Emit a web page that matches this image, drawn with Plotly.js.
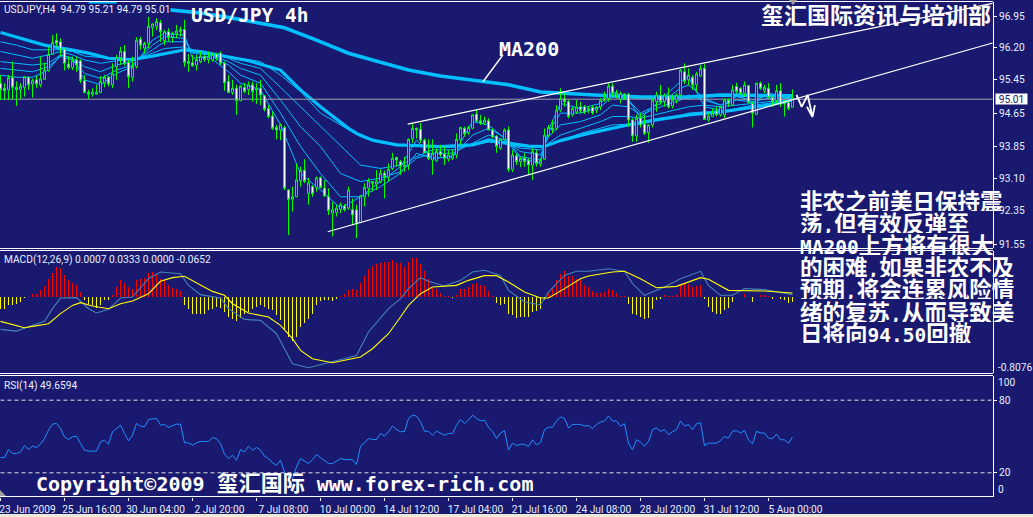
<!DOCTYPE html>
<html><head><meta charset="utf-8">
<script src="https://cdn.plot.ly/plotly-3.0.1.min.js"></script>
<style>html,body{margin:0;padding:0;background:#191970;overflow:hidden}</style></head>
<body><div id="chart" style="width:1033px;height:517px"></div>
<script>
const barOpen=[95.36,95.24,95.20,95.49,95.26,95.21,95.26,95.50,95.34,95.44,95.32,95.45,95.66,96.04,96.37,96.34,96.17,95.81,95.73,95.91,95.89,95.42,95.14,95.10,95.10,95.14,95.37,95.50,95.32,95.75,95.97,96.11,95.85,95.50,95.75,96.40,96.19,96.30,96.68,96.71,96.79,96.37,96.58,96.45,96.54,96.58,96.63,95.87,95.84,95.79,95.87,95.99,95.92,95.91,96.04,96.07,95.83,95.40,95.14,95.24,94.95,95.26,95.21,95.32,95.20,95.24,95.06,94.76,94.58,94.31,94.25,94.31,92.83,92.61,92.67,93.05,93.30,92.75,92.91,92.89,93.12,92.87,92.67,92.28,92.30,92.37,92.45,92.40,92.36,92.36,92.06,92.67,92.87,93.03,92.97,93.03,93.23,93.13,93.34,93.60,93.50,93.38,93.42,94.05,94.29,94.27,94.01,93.71,93.54,93.52,93.74,93.68,93.56,93.58,93.66,94.03,94.29,94.19,94.29,94.63,94.47,94.42,94.47,94.25,94.11,93.82,94.03,94.25,93.32,93.64,93.50,93.58,93.53,93.42,93.71,93.45,93.56,94.13,94.29,94.29,94.72,94.99,94.92,94.61,94.68,94.80,94.80,94.71,94.79,94.72,94.80,94.95,95.00,95.29,95.08,94.98,95.10,95.10,94.49,94.11,94.53,94.39,94.19,94.37,94.92,95.06,94.92,95.06,94.82,94.96,95.08,95.63,95.44,95.50,95.32,95.53,95.71,94.49,94.57,94.70,94.61,94.61,94.95,94.84,95.28,95.24,95.12,95.30,94.88,94.62,95.36,95.18,95.24,95.02,94.95,95.18,94.92,94.90,94.79];
const barHigh=[95.55,95.36,95.55,95.87,95.40,95.36,95.53,95.51,95.47,95.53,95.99,95.85,96.22,96.50,96.54,96.42,96.18,95.99,95.99,95.99,95.92,95.55,95.20,95.24,95.32,95.53,95.55,95.53,95.83,96.03,96.22,96.26,95.91,95.99,96.45,96.46,96.34,96.93,96.78,96.90,96.86,96.62,96.66,96.58,96.74,96.70,96.86,96.05,96.03,96.03,96.11,96.03,96.11,96.07,96.08,96.11,95.87,95.55,95.44,95.32,95.32,95.37,95.40,95.40,95.36,95.44,95.08,94.84,94.69,94.37,94.41,94.35,92.85,92.91,93.46,93.38,93.56,93.11,92.95,93.15,93.15,93.07,92.87,92.55,92.48,92.53,92.50,92.91,92.63,92.48,92.71,92.99,93.11,93.04,93.30,93.32,93.29,93.46,93.71,93.62,93.54,93.62,94.05,94.42,94.31,94.42,94.05,94.03,94.03,93.82,93.90,93.86,93.78,93.79,94.17,94.33,94.33,94.35,94.63,94.74,94.61,94.57,94.53,94.29,94.13,94.05,94.29,94.33,93.78,93.70,93.62,93.70,93.58,93.82,93.78,93.58,94.29,94.37,94.49,94.84,95.24,95.12,94.96,94.80,94.96,94.92,94.84,94.82,94.84,94.82,95.00,95.16,95.36,95.36,95.20,95.16,95.12,95.12,94.53,94.61,94.65,94.61,94.39,95.00,95.16,95.32,95.12,95.26,95.08,95.12,95.69,95.83,95.71,95.55,95.63,95.79,95.81,94.65,94.76,94.80,94.82,95.00,95.00,95.32,95.37,95.26,95.40,95.32,94.92,95.37,95.40,95.32,95.36,95.04,95.32,95.36,94.96,94.92,95.21];
const barLow=[94.96,94.96,94.96,94.98,94.82,94.98,95.04,95.20,95.02,95.24,95.26,95.44,95.63,96.03,96.22,95.99,95.66,95.69,95.67,95.63,95.36,95.12,94.98,95.04,95.08,95.12,95.26,95.28,95.24,95.44,95.79,95.77,95.24,95.40,95.71,96.15,96.07,96.19,96.46,96.62,96.34,96.26,96.34,96.32,96.42,96.46,95.75,95.63,95.75,95.66,95.83,95.87,95.83,95.87,95.89,95.79,95.18,95.14,95.08,94.61,94.93,95.12,95.08,94.92,94.87,94.84,94.69,94.53,94.25,94.03,94.01,92.83,91.76,92.32,92.67,92.91,92.99,92.48,92.67,92.79,92.87,92.67,92.24,91.73,92.20,92.28,92.32,92.36,92.00,91.69,92.04,92.44,92.67,92.79,92.83,92.99,92.63,93.03,93.30,93.38,93.19,93.26,93.30,93.94,94.05,93.94,93.70,93.54,93.19,93.50,93.62,93.42,93.50,93.54,93.58,93.90,94.09,94.13,94.27,94.45,94.37,94.37,94.25,94.05,93.71,93.78,94.01,93.26,93.26,93.42,93.37,93.38,93.19,93.07,93.38,93.38,93.54,94.09,94.17,94.25,94.68,94.80,94.53,94.57,94.63,94.65,94.63,94.65,94.61,94.65,94.72,94.92,94.92,95.04,95.00,94.88,94.96,94.33,93.97,93.97,94.31,94.13,93.95,94.31,94.68,94.84,94.80,94.76,94.76,94.88,95.04,95.34,95.30,95.20,95.16,95.51,94.49,94.45,94.57,94.57,94.57,94.53,94.80,94.82,95.12,95.08,95.04,94.88,94.31,94.61,95.20,95.12,95.00,94.80,94.88,94.80,94.57,94.72,94.79];
const barClose=[95.20,95.18,95.49,95.26,95.21,95.29,95.51,95.32,95.42,95.34,95.46,95.67,96.04,96.32,96.30,96.15,95.83,95.73,95.89,95.79,95.42,95.14,95.10,95.14,95.14,95.40,95.50,95.34,95.58,95.97,96.12,95.83,95.51,95.75,96.38,96.26,96.30,96.71,96.76,96.82,96.58,96.58,96.46,96.54,96.60,96.63,95.85,95.83,95.77,95.92,96.00,95.92,95.99,96.04,95.95,95.83,95.37,95.14,95.24,94.95,95.29,95.16,95.32,95.16,95.24,95.08,94.74,94.57,94.29,94.25,94.37,92.87,92.61,92.67,93.07,93.29,93.03,93.00,92.74,93.12,92.89,92.69,92.34,92.36,92.40,92.48,92.36,92.83,92.24,92.03,92.69,92.89,93.05,92.99,93.04,93.23,93.15,93.32,93.58,93.54,93.40,93.42,94.03,94.29,94.25,94.01,93.71,93.58,93.70,93.74,93.66,93.58,93.66,93.66,94.03,94.31,94.16,94.31,94.61,94.46,94.42,94.49,94.25,94.09,93.86,94.03,94.25,93.32,93.66,93.50,93.58,93.50,93.42,93.74,93.46,93.53,94.13,94.31,94.25,94.72,95.00,94.92,94.57,94.76,94.79,94.71,94.68,94.76,94.66,94.79,94.96,95.00,95.29,95.12,95.14,95.12,95.06,94.49,94.11,94.53,94.37,94.17,94.37,94.96,95.08,94.92,95.08,94.80,94.96,95.08,95.67,95.40,95.55,95.32,95.58,95.71,94.50,94.58,94.65,94.61,94.80,94.96,94.87,95.20,95.16,95.12,95.32,94.90,94.65,95.36,95.24,95.26,95.02,94.92,95.18,94.87,94.87,94.76,95.01];

const ma200Bar=[22,29,null,40,50,58,71,79,87,93,102,110,121,127,135,143,152,160,172,180,198];
const ma200Val=[97.28,97.26,null,97.12,97.02,96.90,96.67,96.38,96.07,95.91,95.67,95.53,95.39,95.32,95.15,95.10,95.06,95.03,95.03,95.08,95.06];
const slowBar=[0,5,11,17,22,27,33,38,46,50,57,62,70,75,80,87,89,93,99,110,118,122,127,132,136,140,147,156,164,172,181,192,198];
const slowVal=[96.56,96.42,96.26,96.16,96.07,95.95,95.92,96.00,96.15,96.11,95.99,95.89,95.67,95.20,94.80,94.29,94.17,94.01,93.90,93.86,93.90,94.00,93.94,93.87,93.86,94.00,94.17,94.35,94.49,94.61,94.69,94.84,94.96];

const ribbonBar=[0,4,8,12,15,18,21,25,29,33,35,38,41,46,48,52,57,60,65,70,75,80,85,90,95,100,104,108,113,118,122,126,130,135,137,140,145,150,153,157,160,165,170,172,176,180,184,188,192,198];
const ribbon1=[96.34,96.26,96.15,96.16,96.15,96.11,96.00,95.97,95.94,95.92,95.97,96.00,96.07,96.15,96.12,96.07,95.99,95.95,95.87,95.55,95.16,94.65,94.37,94.09,93.95,93.90,93.87,93.84,93.84,93.90,93.97,93.92,93.86,93.84,93.90,94.00,94.17,94.29,94.37,94.39,94.45,94.53,94.59,94.65,94.68,94.68,94.76,94.84,94.88,94.96];
const ribbon2=[96.11,96.03,95.95,96.03,96.11,96.03,95.91,95.83,95.89,95.92,95.97,96.07,96.18,96.22,96.12,96.07,95.95,95.83,95.71,95.26,94.80,94.33,93.86,93.42,93.34,93.42,93.62,93.78,93.78,93.90,94.05,93.94,93.82,93.78,93.94,94.13,94.29,94.45,94.57,94.57,94.53,94.65,94.76,94.80,94.84,94.80,94.84,94.88,94.92,94.98];
const ribbon3=[95.87,95.83,95.79,95.83,96.03,95.95,95.75,95.63,95.79,95.87,95.97,96.15,96.34,96.34,96.11,96.05,95.87,95.71,95.55,94.96,94.33,93.86,93.22,93.03,93.11,93.26,93.58,93.70,93.70,93.94,94.13,94.01,93.74,93.66,94.09,94.37,94.45,94.61,94.84,94.80,94.61,94.80,94.96,95.08,94.96,94.84,94.96,94.92,95.00,95.00];
const ribbon4=[95.71,95.67,95.63,95.75,95.99,95.91,95.59,95.47,95.67,95.79,95.97,96.26,96.46,96.42,96.07,96.03,95.79,95.55,95.36,94.65,93.86,93.22,92.67,92.67,92.91,93.23,93.70,93.58,93.62,94.13,94.29,94.08,93.62,93.54,94.21,94.65,94.65,94.80,95.04,94.96,94.65,94.88,95.24,95.32,95.00,94.84,95.04,94.96,95.08,95.00];
const ribbon5=[95.55,95.50,95.50,95.67,96.03,95.95,95.44,95.32,95.59,95.75,95.99,96.38,96.54,96.50,95.95,95.99,95.63,95.36,95.20,94.37,93.22,92.83,92.40,92.67,93.03,93.38,94.01,93.58,93.62,94.45,94.37,94.05,93.58,93.46,94.25,94.88,94.76,94.88,95.16,94.96,94.53,94.96,95.40,95.51,94.80,94.72,95.12,94.88,95.12,95.00];

const upperLineBar=[101.8,248];
const upperLineVal=[94.39,97.25];
const lowerLineBar=[81.8,248];
const lowerLineVal=[91.84,96.31];
const lastPriceLabel="95.01";
const lastPriceLevel=94.98;
const ma200PointerBar=[120.6,125.6];
const ma200PointerVal=[95.39,96.03];
const arrowBar=[199,200.3,201.8,203,201.6,203,203.6];
const arrowVal=[95.08,94.80,95.08,94.56,94.80,94.56,94.84];

const macdHist=[-.124,-.124,-.082,-.082,-.071,-.053,-.011,0,.028,.035,
.071,.117,.195,.259,.319,.309,.230,.177,.149,.124,
.053,-.028,-.071,-.089,-.117,-.082,-.035,-.028,.025,.106,
.177,.152,.106,.089,.177,.195,.202,.259,.266,.248,
.195,.177,.131,.099,.089,.060,-.082,-.124,-.177,-.184,
-.184,-.177,-.142,-.131,-.106,-.117,-.160,-.213,-.238,-.259,
-.223,-.177,-.160,-.131,-.106,-.082,-.106,-.131,-.142,-.195,
-.248,-.355,-.426,-.472,-.426,-.319,-.273,-.238,-.177,-.089,
-.046,-.035,-.035,-.046,-.025,.011,.028,.071,.089,.071,
.152,.223,.301,.330,.348,.365,.372,.372,.397,.362,
.365,.319,.372,.415,.415,.355,.273,.195,.096,.089,
.046,.007,.007,-.011,.018,.082,.089,.106,.142,.149,
.124,.113,.060,.007,-.060,-.082,-.071,-.177,-.195,-.223,
-.213,-.213,-.213,-.160,-.152,-.124,-.035,.043,.096,.177,
.248,.273,.223,.220,.195,.177,.124,.106,.060,.043,
.046,.053,.082,.071,.046,.011,.007,-.078,-.184,-.195,
-.213,-.238,-.223,-.131,-.035,-.018,.018,.007,.007,.025,
.124,.135,.135,.106,.113,.124,-.025,-.106,-.160,-.184,
-.184,-.142,-.117,-.053,-.004,0,.028,0,-.053,0,
.018,.025,.007,-.018,0,-.025,-.035,-.064,-.053];
const signalBar=[0,3,6,8,12,15,18,20,23,27,30,33,37,40,43,46,50,53,56,58,62,67,70,73,75,78,83,87,90,93,97,100,102,105,108,114,117,121,124,127,131,135,137,141,145,147,153,156,160,164,169,175,177,182,191,198];
const signalVal=[-.259,-.294,-.326,-.312,-.284,-.177,-.089,-.060,-.096,-.124,-.071,-.043,.035,.167,.206,.220,.124,.060,.018,-.071,-.170,-.213,-.301,-.443,-.567,-.656,-.699,-.667,-.638,-.550,-.390,-.213,-.089,.035,.106,.124,.177,.227,.227,.160,.053,-.011,-.011,.089,.195,.223,.266,.273,.195,.099,.113,.206,.188,.071,.064,.043];
const macdBar=[0,4,8,11,13,15,19,22,24,27,30,33,37,40,45,47,50,55,57,61,65,69,71,73,77,82,86,89,92,97,100,102,105,107,111,115,118,121,125,127,131,135,137,141,144,147,152,156,158,161,166,170,175,177,180,183,186,191,198];
const macdVal=[-.344,-.362,-.301,-.259,-.124,-.011,-.007,-.124,-.170,-.131,-.011,0,.195,.266,.248,.124,.025,-.011,-.124,-.238,-.248,-.390,-.550,-.709,-.752,-.699,-.656,-.621,-.372,-.124,-.018,.089,.206,.167,.117,.177,.266,.284,.230,.071,-.053,-.082,.053,.230,.273,.273,.301,.273,.142,.018,.106,.195,.273,.124,.018,.018,.089,.078,.025];

const rsiVal=[32.6,32.6,39.2,35.9,35.9,37.3,42.6,39.2,42.0,40.9,
43.7,48.3,55.3,60.2,60.8,56.6,49.7,47.5,49.7,50.3,
44.2,38.7,37.9,38.1,37.9,45.6,47.0,43.7,53.9,56.6,
59.4,52.5,46.4,51.1,60.8,58.6,58.0,64.1,64.4,64.9,
59.4,59.9,57.5,58.6,60.2,60.2,44.8,44.8,42.8,44.8,
45.9,45.9,45.9,49.2,48.1,44.2,35.4,31.8,34.5,30.4,
39.2,37.3,42.0,38.7,40.9,38.7,33.7,31.8,28.2,26.3,
30.4,20.7,17.1,15.2,24.9,31.8,29.8,27.6,30.9,35.1,
32.6,30.4,27.6,27.6,29.8,31.8,30.9,30.9,30.9,26.8,
42.0,44.8,48.3,47.5,47.5,52.5,50.3,53.9,58.6,55.8,
53.9,54.2,64.9,67.7,66.9,62.2,54.4,54.2,51.1,54.4,
52.5,51.1,52.5,52.5,59.4,64.1,60.8,63.5,67.7,64.9,
63.0,63.5,57.5,54.4,48.3,
52.9,54.9,38.9,44.5,42.5,43.6,43.6,41.7,47.3,43.1,
45.0,55.7,57.7,57.7,62.8,66.2,65.0,57.1,60.0,60.0,
60.0,58.6,59.1,56.6,60.0,61.9,62.8,67.0,62.8,62.8,
58.6,60.5,44.5,38.9,47.3,45.3,42.2,45.9,55.7,57.1,
54.3,55.7,51.5,53.8,55.7,62.8,58.6,60.0,55.7,60.5,
61.4,42.5,44.5,44.5,44.5,46.5,50.1,48.7,54.3,54.9,
52.9,54.9,47.3,43.9,54.3,52.9,52.9,48.7,48.2,52.1,
47.3,47.3,44.5,49.7];
const rsiLevels=[80,20];

const xTickBars=[0,16,32,48,64,80,96,112,128,144,160,176,192];
const xTickLabels=["23 Jun 2009","25 Jun 16:00","30 Jun 04:00","2 Jul 20:00","7 Jul 08:00","10 Jul 00:00","14 Jul 12:00","17 Jul 04:00","21 Jul 16:00","24 Jul 08:00","28 Jul 20:00","31 Jul 12:00","5 Aug 00:00"];
const priceTicks=[96.95,96.20,95.45,94.65,93.85,93.10,92.35,91.55];
const priceTickLabels=["96.95","96.20","95.45","94.65","93.85","93.10","92.35","91.55"];
const noteLines=["非农之前美日保持震","荡<s>,</s>但有效反弹至","<s>MA200</s>上方将有很大","的困难<s>,</s>如果非农不及","预期<s>,</s>将会连累风险情","绪的复苏<s>,</s>从而导致美","日将向<s>94.50</s>回撤"];

const NAVY='#191970', SKY='#00bfff', PW=993, PH=497;
const bars=barOpen.map((_,i)=>i);
const px=x=>x/PW, py=y=>1-y/PH;
const priceRange=[91.456,97.282];

function line(x,y,yaxis,color,width,extra){return Object.assign({type:'scatter',mode:'lines',x,y,yaxis,xaxis:'x',hoverinfo:'skip',showlegend:false,connectgaps:false,line:{color,width}},extra||{});}
const dashed={line:{color:'#e0e0e0',width:1,dash:'4px,3px'}};
const traces=[
 line(ma200Bar,ma200Val,'y',SKY,3.6),
 line(slowBar,slowVal,'y',SKY,3.2),
 ...[ribbon1,ribbon2,ribbon3,ribbon4,ribbon5].map(r=>line(ribbonBar,r,'y',SKY,1)),
 line([bars[0],248],[lastPriceLevel,lastPriceLevel],'y','#a0a0a8',1),
 {type:'candlestick',x:bars,open:barOpen,high:barHigh,low:barLow,close:barClose,xaxis:'x',yaxis:'y4',hoverinfo:'skip',showlegend:false,
  increasing:{line:{color:'#00ff00',width:1},fillcolor:NAVY},decreasing:{line:{color:'#00ff00',width:1},fillcolor:'#ffffff'}},
 line(upperLineBar,upperLineVal,'y4','#ffffff',1.2),
 line(lowerLineBar,lowerLineVal,'y4','#ffffff',1.2),
 line(ma200PointerBar,ma200PointerVal,'y4','#ffffff',1.6),
 line(arrowBar,arrowVal,'y4','#ffffff',1.8),
 {type:'bar',x:bars,y:macdHist,width:0.27,xaxis:'x',yaxis:'y2',hoverinfo:'skip',showlegend:false,marker:{color:macdHist.map(v=>v>=0?'#ff0000':'#ffff00'),line:{width:0}}},
 line(macdBar,macdVal,'y2','#4682b4',1.1),
 line(signalBar,signalVal,'y2','#ffff00',1.1),
 line([bars[0],248],[rsiLevels[0],rsiLevels[0]],'y3','#e0e0e0',1,dashed),
 line([bars[0],248],[rsiLevels[1],rsiLevels[1]],'y3','#e0e0e0',1,dashed),
 line(bars,rsiVal,'y3','#1e90ff',1)
];

const axisFont={family:'Roboto,"Liberation Sans",sans-serif',size:10.2,color:'#e8eeff'};
const yBase={side:'right',anchor:'x',showgrid:false,zeroline:false,showline:true,linecolor:'#ffffff',linewidth:1,ticks:'outside',ticklen:3,tickcolor:'#ffffff',tickfont:axisFont,fixedrange:true};

const CJK='"Noto Sans CJK SC"', MONO="'DejaVu Sans Mono'";
const txt=(text,x,y,size,extra)=>Object.assign({text,xref:'paper',yref:'paper',x:px(x),y:py(y),xanchor:'left',yanchor:'middle',showarrow:false,align:'left',borderpad:0,font:{family:CJK,size,color:'#ffffff'}},extra||{});
const lat=(s,size)=>`<span style="font-family:${MONO};font-size:${size}px;font-weight:bold">${s}</span>`;
const small=(text,x,y,extra)=>txt(text,x,y,10,Object.assign({font:axisFont},extra||{}));
const noteYs=[200,222,244,266,288,311,332];
const annotations=[
 small('USDJPY,H4&nbsp;&nbsp;94.79 95.21 94.79 95.01',3,9,{bgcolor:NAVY}),
 small('MACD(12,26,9) 0.0007 0.0333 0.0000 -0.0652',3,260),
 small('RSI(14) 49.6594',3,386),
 small('-0.8076',997,367),small('100',997,382),small('0',997,489),
 {text:lastPriceLabel,xref:'paper',yref:'y',x:px(995),y:lastPriceLevel,xanchor:'left',yanchor:'middle',showarrow:false,bgcolor:'#ffffff',borderpad:0,font:{family:axisFont.family,size:10.2,color:NAVY},width:31,height:10},
 txt(lat('USD/JPY&nbsp;4h',19.5),190,16,19.5),
 txt(lat('MA200',20),498,49,20),
 txt('<b>玺汇国际资讯与培训部</b>',760,14,23,{height:24}),
 ...noteLines.map((s,k)=>txt('<b>'+s.replace(/<s>(.*?)<\/s>/g,(m,a)=>lat(a,19.5))+'</b>',799,noteYs[k],22.5,{height:22})),
 txt(lat('Copyright©2009&nbsp;',20)+'<b>玺汇国际</b>'+lat('&nbsp;www.forex-rich.com',20),35,481,22)
];
const pline=(x0,y0,x1,y1,c)=>({type:'line',xref:'paper',yref:'paper',x0:px(x0),y0:py(y0),x1:px(x1),y1:py(y1),line:{color:c||'#ffffff',width:1},layer:'above'});
const shapes=[
 pline(0,1.5,993,1.5),pline(0,248.5,993,248.5),pline(0,250.5,993,250.5),pline(0,373.5,993,373.5),pline(0,375.5,993,375.5),pline(0,496.5,993,496.5),
 {type:'rect',xref:'paper',yref:'paper',x0:0,x1:px(1033),y0:py(514),y1:py(517),fillcolor:'#ece9d8',line:{width:0},layer:'above'},
 {type:'path',xref:'paper',yref:'paper',path:`M ${px(789)} ${py(0)} L ${px(797)} ${py(0)} L ${px(793)} ${py(5)} Z`,fillcolor:'#a0a0a0',line:{width:0},layer:'above'},
 {type:'path',xref:'paper',yref:'paper',path:`M 0 ${py(490)} L ${px(6)} ${py(496)} L 0 ${py(496)} Z`,fillcolor:'#a0a0a0',line:{width:0},layer:'above'}
];
const layout={
 width:1033,height:517,autosize:false,margin:{l:0,r:40,t:0,b:20,pad:0},paper_bgcolor:NAVY,plot_bgcolor:NAVY,showlegend:false,hovermode:false,dragmode:false,bargap:0,
 xaxis:{type:'linear',domain:[0,1],anchor:'y3',range:[-0.125,248.125],tickmode:'array',tickvals:xTickBars,ticktext:xTickLabels,tickfont:axisFont,ticks:'outside',ticklen:3,tickcolor:'#ffffff',ticklabelshift:27,ticklabeloverflow:'allow',tickangle:0,showgrid:false,zeroline:false,showline:false,fixedrange:true,rangeslider:{visible:false}},
 yaxis:Object.assign({},yBase,{domain:[py(248),py(2)],range:priceRange,tickmode:'array',tickvals:priceTicks,ticktext:priceTickLabels}),
 yaxis4:Object.assign({},yBase,{overlaying:'y',range:priceRange,showline:false,ticks:'',showticklabels:false}),
 yaxis2:Object.assign({},yBase,{domain:[py(373),py(251)],range:[-0.8076,0.489],tickmode:'array',tickvals:[],ticktext:[]}),
 yaxis3:Object.assign({},yBase,{domain:[py(PH),py(376)],range:[0,100],tickmode:'array',tickvals:rsiLevels,ticktext:rsiLevels.map(String)}),
 annotations,shapes
};
Plotly.newPlot('chart',traces,layout,{displayModeBar:false,staticPlot:true});
</script></body></html>
